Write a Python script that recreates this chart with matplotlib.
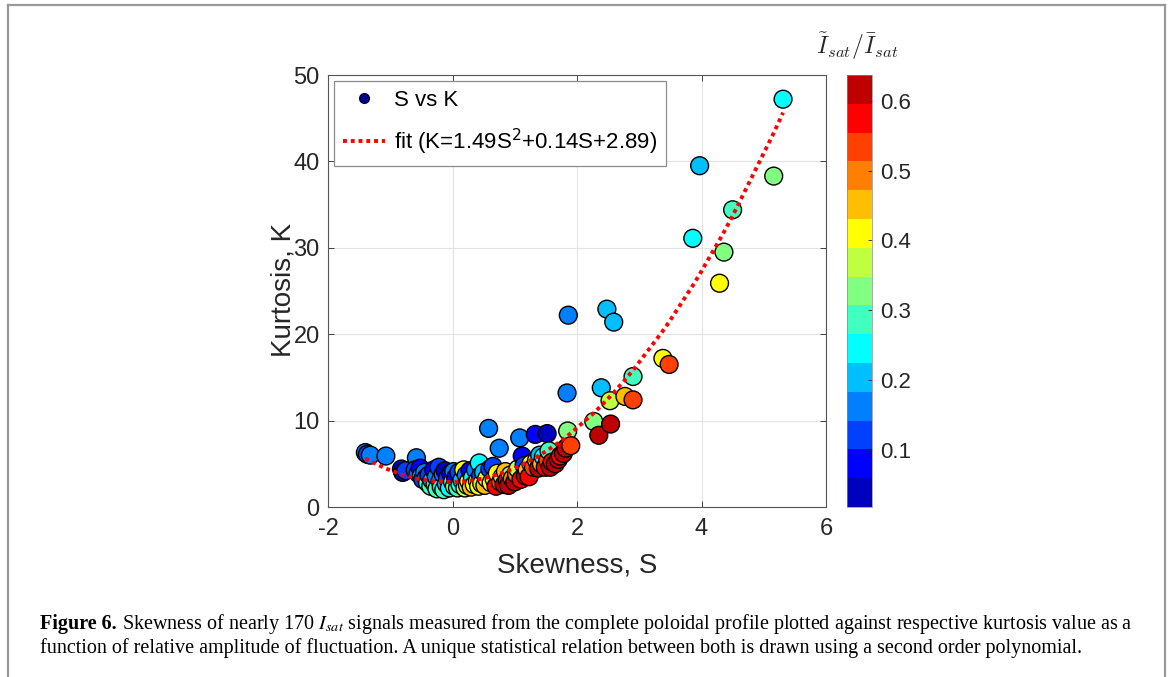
import numpy as np
import matplotlib
matplotlib.use('Agg')
import matplotlib.pyplot as plt
from matplotlib.colors import ListedColormap
from matplotlib.lines import Line2D

plt.rcParams['font.family'] = ['Liberation Sans', 'DejaVu Sans']
plt.rcParams['axes.unicode_minus'] = False

# skewness S, kurtosis K, relative amplitude (Isat~/Isat_bar)
skew = [-1.40, -1.37, -1.32, -1.07, -0.82, -0.80, -0.75, -0.58, -0.60, -0.55,
        -0.52, -0.50, -0.48,
        -0.45, -0.42, -0.40, -0.38, -0.35, -0.33, -0.30, -0.28, -0.26, -0.25,
        -0.22, -0.20, -0.18, -0.15, -0.14, -0.12, -0.10, -0.08, -0.05, -0.03,
        0.00, 0.02, 0.03,
        0.05, 0.08, 0.10, 0.12, 0.15, 0.18, 0.20, 0.22, 0.24, 0.26,
        0.28, 0.30, 0.32, 0.35, 0.37, 0.40, 0.42, 0.43, 0.45, 0.47, 0.50,
        0.52, 0.55, 0.58, 0.60, 0.62, 0.65, 0.67, 0.70, 0.72, 0.75,
        0.77, 0.80, 0.83, 0.85, 0.88, 0.90, 0.93, 0.96, 1.00, 1.03,
        1.05, 1.08, 1.10, 1.12, 1.15, 1.17, 1.20, 1.23, 1.26, 1.30,
        1.33, 1.35, 1.38, 1.40, 1.43, 1.46, 1.49, 1.52, 1.53, 1.55,
        1.57, 1.60, 1.65, 1.70, 1.73, 1.78, 1.82, 1.85, 1.90,
        1.84, 1.86, 2.27, 2.35, 2.54, 2.39, 2.53, 2.77, 2.90, 2.90,
        2.48, 2.59, 3.38, 3.48, 3.86, 3.97, 4.29, 4.36, 4.50, 5.16, 5.31]
kurt = [6.3, 6.1, 6.0, 5.9, 4.4, 4.0, 4.2, 5.7, 4.3, 3.9,
        4.5, 3.6, 3.2,
        4.0, 3.4, 2.8, 3.7, 2.4, 3.1, 4.3, 2.6, 3.5, 2.1,
        4.6, 3.0, 2.3, 3.8, 2.0, 4.2, 2.7, 3.3, 2.2, 3.9,
        2.9, 4.1, 2.4,
        3.4, 2.2, 4.0, 2.6, 3.1, 4.3, 2.2, 3.7, 2.5, 3.0,
        4.2, 2.3, 3.4, 2.6, 4.3, 3.0, 2.4, 5.1, 3.6, 2.7, 4.0,
        2.5, 3.3, 9.1, 4.4, 2.8, 4.7, 3.2, 2.4, 3.9, 6.8,
        2.9, 3.5, 2.6, 4.1, 3.1, 2.5, 3.7, 3.3, 2.9, 3.8,
        4.4, 8.0, 3.2, 5.9, 4.8, 3.6, 4.3, 3.5, 5.0, 4.6,
        8.4, 5.4, 4.5, 6.0, 5.0, 5.8, 4.6, 8.5, 5.4, 6.5,
        4.6, 5.2, 5.0, 5.5, 5.9, 6.2, 6.8, 8.8, 7.1,
        13.2, 22.2, 9.9, 8.3, 9.6, 13.8, 12.3, 12.8, 12.4, 15.1,
        22.9, 21.4, 17.2, 16.5, 31.1, 39.5, 25.9, 29.5, 34.4, 38.3, 47.2]
amp = [0.16, 0.12, 0.16, 0.16, 0.08, 0.04, 0.12, 0.16, 0.12, 0.16,
       0.08, 0.20, 0.12,
       0.16, 0.16, 0.29, 0.12, 0.29, 0.20, 0.08, 0.245, 0.16, 0.29,
       0.12, 0.16, 0.245, 0.16, 0.29, 0.04, 0.20, 0.12, 0.245, 0.08,
       0.29, 0.16, 0.33,
       0.08, 0.29, 0.12, 0.245, 0.20, 0.41, 0.37, 0.16, 0.37, 0.41,
       0.08, 0.45, 0.245, 0.41, 0.16, 0.33, 0.41, 0.245, 0.12, 0.37, 0.20,
       0.45, 0.41, 0.16, 0.12, 0.41, 0.12, 0.37, 0.57, 0.41, 0.16,
       0.53, 0.37, 0.62, 0.45, 0.57, 0.62, 0.33, 0.49, 0.62, 0.49,
       0.37, 0.16, 0.57, 0.08, 0.12, 0.62, 0.45, 0.57, 0.41, 0.53,
       0.08, 0.37, 0.62, 0.20, 0.45, 0.245, 0.57, 0.04, 0.53, 0.29,
       0.62, 0.57, 0.62, 0.62, 0.57, 0.62, 0.62, 0.33, 0.53,
       0.16, 0.16, 0.33, 0.62, 0.62, 0.20, 0.37, 0.45, 0.53, 0.29,
       0.20, 0.20, 0.41, 0.53, 0.245, 0.20, 0.41, 0.33, 0.29, 0.33, 0.245]

fit_coef = [1.49, 0.14, 2.89]

jet15 = ['#0000bf', '#0000ff', '#0040ff', '#0080ff', '#00bfff', '#00ffff',
         '#40ffbf', '#80ff80', '#bfff40', '#ffff00', '#ffbf00', '#ff8000',
         '#ff4000', '#ff0000', '#bf0000']
cmap = ListedColormap(jet15)
cmin, cmax = 0.018, 0.637

W, H = 1170, 677
fig = plt.figure(figsize=(W / 100, H / 100), dpi=100)

# axes box in pixels: x 328..826, y 75..507
ax = fig.add_axes([328 / W, 1 - 507 / H, 498 / W, 432 / H])
sc = ax.scatter(skew, kurt, c=amp, cmap=cmap, vmin=cmin, vmax=cmax, s=165,
                edgecolors='k', linewidths=1.0, zorder=3)
s_sorted = np.sort(skew)
ax.plot(s_sorted, np.polyval(fit_coef, s_sorted), color='#ff0000', lw=2.8,
        linestyle=(0, (1, 1)), zorder=4)

ax.set_xlim(-2, 6)
ax.set_ylim(0, 50)
ax.set_xticks([-2, 0, 2, 4, 6])
ax.set_yticks([0, 10, 20, 30, 40, 50])
ax.grid(True, color='#e3e3e3', lw=0.8, zorder=0)
ax.set_axisbelow(True)
ax.tick_params(direction='in', length=4, top=True, right=True,
               labelsize=17, colors='#262626', width=0.6)
ax.tick_params(axis='x', pad=8)
ax.tick_params(axis='y', pad=6)
for sp in ax.spines.values():
    sp.set_color('#555555')
    sp.set_linewidth(0.8)

fig.text(283 / W, 1 - 290 / H, 'Kurtosis, K', rotation=90, ha='center',
         va='center', fontsize=20, color='#262626')
fig.text(577 / W, 1 - 566 / H, 'Skewness, S', ha='center', va='center',
         fontsize=20, color='#262626')

handles = [Line2D([], [], marker='o', ls='none', markersize=7,
                  markerfacecolor='#00008b', markeredgecolor='#000040'),
           Line2D([], [], color='#ff0000', lw=2.8, linestyle=(0, (1, 1)))]
leg = ax.legend(handles, ['S vs K', 'fit (K=1.49S$^2$+0.14S+2.89)'],
                loc='upper left', bbox_to_anchor=(0.012, 0.986),
                fontsize=16, frameon=True, fancybox=False, framealpha=1,
                edgecolor='#8c8c8c', handlelength=1.9, handletextpad=0.4,
                labelspacing=0.7, borderpad=0.4, borderaxespad=0)
leg.get_frame().set_linewidth(0.9)

cax = fig.add_axes([847 / W, 1 - 507 / H, 25 / W, 432 / H])
cb = fig.colorbar(sc, cax=cax)
cb.set_ticks([0.1, 0.2, 0.3, 0.4, 0.5, 0.6])
cb.ax.tick_params(direction='in', length=3, labelsize=16, colors='#262626',
                  pad=6, width=0.6)
cb.outline.set_linewidth(0.5)
cb.outline.set_edgecolor('#888888')
fig.text(857 / W, 1 - 46 / H, r'$\tilde{I}_{sat}/\bar{I}_{sat}$', ha='center',
         va='center', fontsize=17, math_fontfamily='cm', color='#262626')

# caption
serif = ['Liberation Serif', 'DejaVu Serif']
cap_size = 14.5
renderer = fig.canvas.get_renderer()
t1 = fig.text(40 / W, 1 - 624 / H, 'Figure 6.', family=serif, weight='bold',
              fontsize=cap_size, va='center', ha='left')
bb = t1.get_window_extent(renderer)
fig.text(bb.x1 / W, 1 - 624 / H,
         ' Skewness of nearly 170 $I_{sat}$ signals measured from the complete '
         'poloidal profile plotted against respective kurtosis value as a',
         family=serif, fontsize=cap_size, va='center', ha='left',
         math_fontfamily='stix')
fig.text(40 / W, 1 - 648 / H,
         'function of relative amplitude of fluctuation. A unique statistical '
         'relation between both is drawn using a second order polynomial.',
         family=serif, fontsize=cap_size, va='center', ha='left')

# figure frame (open at the bottom)
frame_kw = dict(color='#999999', lw=1.6, transform=fig.transFigure)
fig.add_artist(Line2D([8 / W, 8 / W], [0, 1 - 5 / H], **frame_kw))
fig.add_artist(Line2D([8 / W, 1165 / W], [1 - 5 / H, 1 - 5 / H], **frame_kw))
fig.add_artist(Line2D([1165 / W, 1165 / W], [1 - 5 / H, 0], **frame_kw))

fig.savefig('out.png', dpi=100)
